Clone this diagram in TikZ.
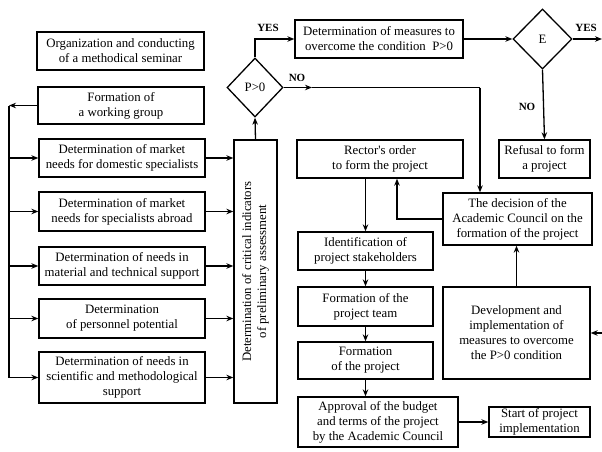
\documentclass[tikz,border=0pt]{standalone}
\usepackage{fontspec}
\setmainfont{Liberation Serif}
\usepackage{tikz}
\usetikzlibrary{arrows.meta}
\usetikzlibrary{positioning}
\usetikzlibrary{shapes.geometric}

\begin{document}
\begin{tikzpicture}[x=1pt,y=-1pt,->,>={Stealth[length=7pt,width=5.5pt]},line width=1.3pt,
                    box node/.style={draw,rectangle,inner sep=0pt,align=center,
                      font=\fontsize{12.8}{15}\selectfont},
                    dec node/.style={draw,diamond,aspect=1,inner sep=0pt,
                      font=\fontsize{12.8}{15}\selectfont},
                    lab node/.style={font=\fontsize{11}{12}\selectfont\bfseries,inner sep=0pt}]

  \useasboundingbox (0,0) rectangle (602,451);

  % left column
  \node[box node,minimum width=167pt,minimum height=38pt] (seminar) at (120.5,51)
    {Organization and conducting\\of a methodical seminar};
  \node[box node,minimum width=166pt,minimum height=37pt] (group) at (121,105.5)
    {Formation of\\a working group};
  \node[box node,minimum width=166pt,minimum height=38pt] (domestic) at (122,158)
    {Determination of market\\needs for domestic specialists};
  \node[box node,minimum width=166pt,minimum height=39pt] (abroad) at (122,211.5)
    {Determination of market\\needs for specialists abroad};
  \node[box node,minimum width=166pt,minimum height=38pt] (material) at (122,266)
    {Determination of needs in\\material and technical support};
  \node[box node,minimum width=166pt,minimum height=39pt] (personnel) at (122,318.5)
    {Determination\\of personnel potential};
  \node[box node,minimum width=166pt,minimum height=51pt] (scientific) at (122,377.5)
    {Determination of needs in\\scientific and methodological\\support};

  \node[box node,rotate=90,minimum width=263pt,minimum height=43pt] (crit) at (255.5,271.5)
    {Determination of critical indicators\\of preliminary assessment};

  % decisions
  \node[dec node,minimum width=56pt,minimum height=59pt] (p0) at (255,87.5) {P>0};
  \node[box node,minimum width=168pt,minimum height=38pt] (measures) at (379,39)
    {Determination of measures to\\overcome the condition~~P>0};
  \node[dec node,minimum width=59pt,minimum height=60pt] (E) at (542.5,39) {E};
  \node[box node,minimum width=91pt,minimum height=38pt] (refusal) at (544.5,159)
    {Refusal to form\\a project};

  % middle column
  \node[box node,minimum width=166pt,minimum height=38pt] (rector) at (380,159)
    {Rector\textquotesingle s order\\to form the project};
  \node[box node,minimum width=149pt,minimum height=52pt] (decision) at (517.5,219)
    {The decision of the\\Academic Council on the\\formation of the project};
  \node[box node,minimum width=135pt,minimum height=38pt] (ident) at (365.5,251)
    {Identification of\\project stakeholders};
  \node[box node,minimum width=135pt,minimum height=39pt] (team) at (365.5,306.5)
    {Formation of the\\project team};
  \node[box node,minimum width=135pt,minimum height=37pt] (formation) at (365.5,360.5)
    {Formation\\of the project};
  \node[box node,minimum width=160pt,minimum height=50pt] (approval) at (378,422)
    {Approval of the budget\\and terms of the project\\by the Academic Council};
  \node[box node,minimum width=101pt,minimum height=30pt] (start) at (539.5,422)
    {Start of project\\implementation};
  \node[box node,minimum width=147pt,minimum height=92pt] (dev) at (516.5,333)
    {Development and\\implementation of\\measures to overcome\\the P>0 condition};

  \coordinate (bus top) at (9,105.5);
  \coordinate (bus bot) at (9,377.5);
  \coordinate (no mid) at (312,87.5);
  \coordinate (no turn) at (480,87.5);
  \coordinate (yes out) at (602,39);
  \coordinate (dev in) at (602,333);

  % left bus
  \draw (group.west) -- (bus top);
  \draw[-] (bus top) -- (bus bot);
  \foreach \n in {domestic,abroad,material,personnel,scientific}
  {
    \draw (bus top |- \n) -- (\n.west);
    \draw (\n.east) -- (\n.east -| crit.north);
  }

  \draw (crit.east) -- (p0.south);
  \draw (p0.north) |- (measures.west);
  \node[lab node] (yes1) at (268,28) {YES};
  \draw (p0.east) -- (no mid);
  \draw[-] (no mid) -- (no turn);
  \draw (no turn) -- (no turn |- decision.north);
  \node[lab node] (no1) at (297,78) {NO};

  \draw (measures.east) -- (E.west);
  \draw (E.east) -- (yes out);
  \node[lab node] (yes2) at (586,28) {YES};
  \draw (E.south) -- (refusal.north);
  \node[lab node] (no2) at (527,107) {NO};

  \draw (ident.north |- rector.south) -- (ident.north);
  \draw (decision.west) -| ([xshift=17pt]rector.south);
  \draw (ident.south) -- (team.north);
  \draw (team.south) -- (formation.north);
  \draw (formation.south) -- (formation.south |- approval.north);
  \draw (approval.east) -- (start.west);
  \draw (dev.north) -- (dev.north |- decision.south);
  \draw (dev in) -- (dev.east);

\end{tikzpicture}
\end{document}
